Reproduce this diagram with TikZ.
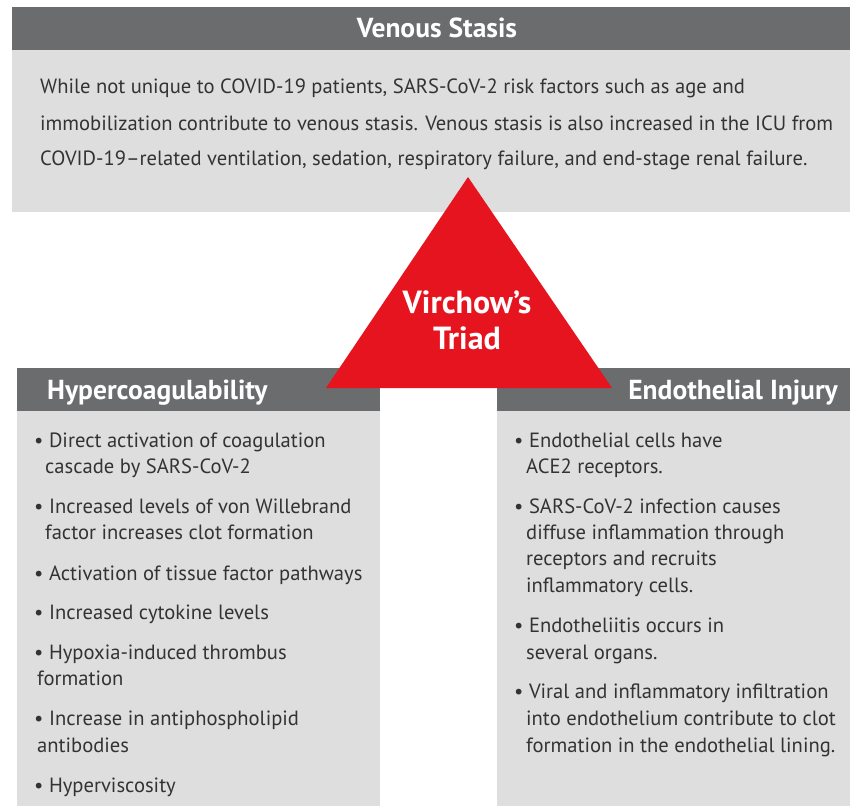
\documentclass[tikz,border=0pt]{standalone}
\usepackage{fontspec}
\setmainfont{PT Sans}
\definecolor{hdr}{HTML}{6B6C6E}
\definecolor{bodyg}{HTML}{DEDEDF}
\definecolor{redt}{HTML}{E5141E}
\definecolor{txt}{HTML}{333333}
\tikzset{
  hdrbox/.style={fill=hdr,draw=none},
  bodybox/.style={fill=bodyg,draw=none},
  para/.style={anchor=base west,inner sep=0pt,text=txt,font=\fontsize{20.6}{22}\selectfont},
  bul/.style={anchor=base west,inner sep=0pt,text=txt,font=\fontsize{20.6}{22}\selectfont},
  htitle/.style={inner sep=0pt,text=white,font=\bfseries\fontsize{27.5}{30}\selectfont},
}
\begin{document}
\begin{tikzpicture}[x=1pt,y=-1pt]
\useasboundingbox (0,0) rectangle (852,808);
% top box
\fill[bodyg] (12,50) rectangle (850,212);
\fill[hdr] (12,7) rectangle (850,50);
\node[htitle,anchor=base] (vs) at (437,38) {Venous Stasis};
\node[para] (p1) at (40,93) {While not unique to COVID-19 patients, SARS-CoV-2 risk factors such as age and};
\node[para] (p2) at (40,130) {immobilization contribute to venous stasis. Venous stasis is also increased in the ICU from};
\node[para] (p3) at (40,165) {COVID-19–related ventilation, sedation, respiratory failure, and end-stage renal failure.};
% left box
\fill[bodyg] (17,411) rectangle (380,806);
\fill[hdr] (17,368) rectangle (380,411);
% right box
\fill[bodyg] (497,411) rectangle (850,806);
\fill[hdr] (497,368) rectangle (850,411);
% triangle
\coordinate (apex) at (468,177);
\coordinate (bl) at (326,388);
\coordinate (br) at (612,388);
\fill[redt] (apex) -- (br) -- (bl) -- cycle;
\node[htitle,anchor=base,font=\bfseries\fontsize{32}{36}\selectfont] (vt1) at (467,313) {Virchow's};
\node[htitle,anchor=base,font=\bfseries\fontsize{32}{36}\selectfont] (vt2) at (467,349) {Triad};
% headers
\node[htitle,anchor=base west] (hc) at (47,399) {Hypercoagulability};
\node[htitle,anchor=base east] (ei) at (838,399) {Endothelial Injury};
% left bullets
\node[bul] (l1) at (34,447) {• Direct activation of coagulation};
\node[bul] (l1b) at (45,473) {cascade by SARS-CoV-2};
\node[bul] (l2) at (34,513) {• Increased levels of von Willebrand};
\node[bul] (l2b) at (45,539) {factor increases clot formation};
\node[bul] (l3) at (34,580) {• Activation of tissue factor pathways};
\node[bul] (l4) at (34,619) {• Increased cytokine levels};
\node[bul] (l5) at (34,659) {• Hypoxia-induced thrombus};
\node[bul] (l5b) at (37,685) {formation};
\node[bul] (l6) at (34,725) {• Increase in antiphospholipid};
\node[bul] (l6b) at (37,752) {antibodies};
\node[bul] (l7) at (34,792) {• Hyperviscosity};
% right bullets
\node[bul] (r1) at (514,447) {• Endothelial cells have};
\node[bul] (r1b) at (526,473) {ACE2 receptors.};
\node[bul] (r2) at (514,513) {• SARS-CoV-2 infection causes};
\node[bul] (r2b) at (526,539) {diffuse inflammation through};
\node[bul] (r2c) at (526,565) {receptors and recruits};
\node[bul] (r2d) at (526,592) {inflammatory cells.};
\node[bul] (r3) at (514,632) {• Endotheliitis occurs in};
\node[bul] (r3b) at (526,659) {several organs.};
\node[bul] (r4) at (514,698) {• Viral and inflammatory infiltration};
\node[bul] (r4b) at (526,725) {into endothelium contribute to clot};
\node[bul] (r4c) at (526,752) {formation in the endothelial lining.};
\end{tikzpicture}
\end{document}
